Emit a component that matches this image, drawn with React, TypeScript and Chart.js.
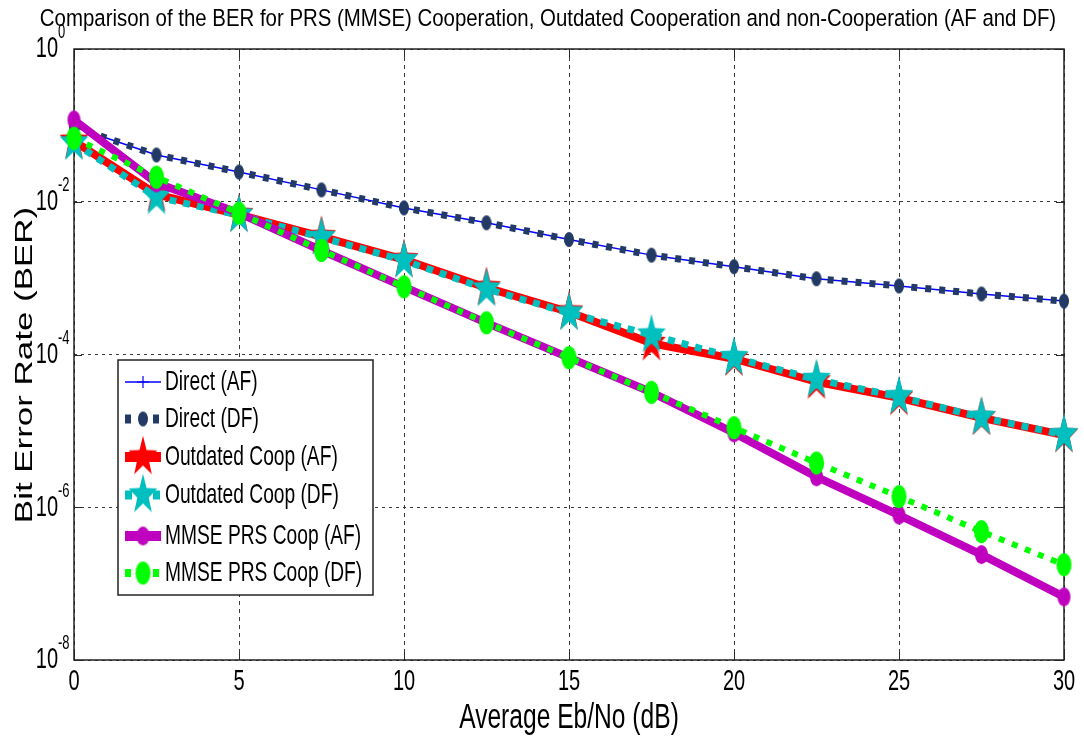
import React, { useEffect, useRef } from 'react';
import { Chart, registerables } from 'chart.js';

Chart.register(...registerables);

// ---------------- data ----------------
const snrDb = [0, 2.5, 5, 7.5, 10, 12.5, 15, 17.5, 20, 22.5, 25, 27.5, 30];
const directAF = [0.095, 0.041, 0.0245, 0.0143, 0.0083, 0.0053, 0.0032, 0.002, 0.00141, 0.00098, 0.00079, 0.00062, 0.0005];
const directDF = [0.095, 0.041, 0.0245, 0.0143, 0.0083, 0.0053, 0.0032, 0.002, 0.00141, 0.00098, 0.00079, 0.00062, 0.0005];
const outdatedAF = [0.062, 0.0125, 0.0068, 0.0035, 0.00175, 0.00075, 0.00036, 0.00014, 0.000088, 0.000044, 0.000027, 0.0000148, 0.0000088];
const outdatedDF = [0.059, 0.0115, 0.0067, 0.0034, 0.0017, 0.00072, 0.00035, 0.00018, 0.000091, 0.000047, 0.000028, 0.000015, 0.0000089];
const mmseAF = [0.118, 0.0176, 0.0071, 0.0023, 0.00077, 0.00026, 0.000091, 0.000032, 0.0000094, 0.0000025, 7.9e-7, 2.4e-7, 6.7e-8];
const mmseDF = [0.068, 0.021, 0.0071, 0.0023, 0.00077, 0.00026, 0.000091, 0.000032, 0.000011, 0.0000038, 1.38e-6, 4.8e-7, 1.77e-7];

const seriesLabels = [
  'Direct (AF)',
  'Direct (DF)',
  'Outdated Coop (AF)',
  'Outdated Coop (DF)',
  'MMSE PRS Coop (AF)',
  'MMSE PRS Coop (DF)',
];
const xTickValues = [0, 5, 10, 15, 20, 25, 30];
const yTickExponents = [0, -2, -4, -6, -8];
const titleText = 'Comparison of the BER for PRS (MMSE) Cooperation, Outdated Cooperation and non-Cooperation (AF and DF)';
const xTitle = 'Average Eb/No (dB)';
const yTitle = 'Bit Error Rate (BER)';

// ---------------- styles ----------------
const FAMILY = '"Liberation Sans", Arial, Helvetica, sans-serif';
const SY = 1.42; // vertical stretch of the original figure

function makeStar(color: string, R: number, sy: number) {
  const c = document.createElement('canvas');
  const w = Math.ceil(2 * R + 4);
  const h = Math.ceil(2 * R * sy + 4);
  c.width = w;
  c.height = h;
  const ctx = c.getContext('2d')!;
  const cx = w / 2;
  const cy = h / 2;
  ctx.beginPath();
  for (let k = 0; k < 10; k++) {
    const a = -Math.PI / 2 + (k * Math.PI) / 5;
    const r = k % 2 === 0 ? R : R * 0.40;
    const x = cx + r * Math.cos(a);
    const y = cy + r * Math.sin(a) * sy;
    if (k === 0) ctx.moveTo(x, y);
    else ctx.lineTo(x, y);
  }
  ctx.closePath();
  ctx.fillStyle = color;
  ctx.fill();
  return c;
}

function makeEllipse(color: string, rx: number, ry: number) {
  const c = document.createElement('canvas');
  const w = Math.ceil(2 * rx + 2);
  const h = Math.ceil(2 * ry + 2);
  c.width = w;
  c.height = h;
  const ctx = c.getContext('2d')!;
  ctx.beginPath();
  ctx.ellipse(w / 2, h / 2, rx, ry, 0, 0, Math.PI * 2);
  ctx.fillStyle = color;
  ctx.fill();
  return c;
}

function drawText(
  ctx: CanvasRenderingContext2D,
  s: string,
  x: number,
  y: number,
  size: number,
  sy: number,
  align: CanvasTextAlign = 'center',
  rot = 0,
) {
  ctx.save();
  ctx.translate(x, y);
  if (rot) ctx.rotate(rot);
  if (rot) ctx.scale(sy, 1);
  else ctx.scale(1, sy);
  ctx.font = `${size}px ${FAMILY}`;
  ctx.fillStyle = '#000';
  ctx.textAlign = align;
  ctx.textBaseline = 'middle';
  ctx.fillText(s, 0, 0);
  ctx.restore();
}

export default function App() {
  const ref = useRef<HTMLCanvasElement | null>(null);

  useEffect(() => {
    document.body.style.margin = '0';
    const canvas = ref.current;
    if (!canvas) return;

    const NAVY = '#233a64';
    const BLUE = '#0000ff';
    const RED = '#ff0000';
    const CYAN = '#00bfbf';
    const MAG = '#bf00bf';
    const GREEN = '#00ff00';

    const redStar = makeStar(RED, 15, SY);
    const cyanStar = makeStar(CYAN, 15, SY);
    const navyDot = makeEllipse(NAVY, 5, 7.5);
    const magDot = makeEllipse(MAG, 6.5, 9.5);
    const greenDot = makeEllipse(GREEN, 7.5, 11.5);

    const pts = (arr: number[]) => snrDb.map((x, i) => ({ x, y: arr[i] }));

    const datasets: any[] = [
      {
        label: seriesLabels[0], data: pts(directAF), borderColor: BLUE, borderWidth: 1.5,
        pointStyle: 'cross', pointRadius: 5, pointBorderColor: BLUE, pointBorderWidth: 1.2, order: 6,
      },
      {
        label: seriesLabels[1], data: pts(directDF), borderColor: NAVY, borderWidth: 7, borderDash: [6, 8],
        pointStyle: navyDot, pointRadius: 5, order: 5,
      },
      {
        label: seriesLabels[2], data: pts(outdatedAF), borderColor: RED, borderWidth: 8,
        pointStyle: redStar, pointRadius: 12, order: 4,
      },
      {
        label: seriesLabels[3], data: pts(outdatedDF), borderColor: CYAN, borderWidth: 7, borderDash: [7, 7],
        pointStyle: cyanStar, pointRadius: 12, order: 3,
      },
      {
        label: seriesLabels[4], data: pts(mmseAF), borderColor: MAG, borderWidth: 8,
        pointStyle: magDot, pointRadius: 7, order: 2,
      },
      {
        label: seriesLabels[5], data: pts(mmseDF), borderColor: GREEN, borderWidth: 6, borderDash: [6, 8],
        pointStyle: greenDot, pointRadius: 8, order: 1,
      },
    ];
    datasets.forEach((d) => {
      d.fill = false;
      d.tension = 0;
      d.clip = false;
      d.borderCapStyle = 'butt';
      d.borderJoinStyle = 'round';
      d.backgroundColor = d.borderColor;
    });

    const legendMarkers = [null, navyDot, redStar, cyanStar, magDot, greenDot];

    const decor = {
      id: 'decor',
      beforeDatasetsDraw(chart: any) {
        const { ctx, chartArea: a, scales } = chart;
        ctx.save();
        ctx.strokeStyle = '#2a2a2a';
        ctx.lineWidth = 1;
        const tl = 8;
        xTickValues.forEach((v) => {
          const px = Math.round(scales.x.getPixelForValue(v)) + 0.5;
          ctx.beginPath();
          ctx.moveTo(px, a.top); ctx.lineTo(px, a.top + tl);
          ctx.moveTo(px, a.bottom); ctx.lineTo(px, a.bottom - tl);
          ctx.stroke();
        });
        yTickExponents.forEach((e) => {
          const py = Math.round(scales.y.getPixelForValue(Math.pow(10, e))) + 0.5;
          ctx.beginPath();
          ctx.moveTo(a.left, py); ctx.lineTo(a.left + tl, py);
          ctx.moveTo(a.right, py); ctx.lineTo(a.right - tl, py);
          ctx.stroke();
        });
        ctx.lineWidth = 1.5;
        ctx.strokeStyle = '#222';
        ctx.strokeRect(a.left, a.top, a.right - a.left, a.bottom - a.top);
        ctx.restore();
      },
      afterDraw(chart: any) {
        const { ctx, chartArea: a, scales } = chart;
        // title
        ctx.save();
        ctx.font = `20px ${FAMILY}`;
        const tw = ctx.measureText(titleText).width;
        ctx.restore();
        const tsize = (20 * 1017) / tw;
        drawText(ctx, titleText, 548, 19, tsize, 1.2);

        // x ticks
        xTickValues.forEach((v) => {
          drawText(ctx, String(v), scales.x.getPixelForValue(v), 682, 20, 1.5);
        });
        // y ticks with superscript exponents
        yTickExponents.forEach((e) => {
          const py = scales.y.getPixelForValue(Math.pow(10, e));
          drawText(ctx, '10', 58, py, 20, 1.5, 'right');
          drawText(ctx, String(e), 58, py - 16, 13, 1.5, 'left');
        });
        // axis titles
        drawText(ctx, xTitle, (a.left + a.right) / 2, 718, 24.6, SY);
        drawText(ctx, yTitle, 25, 365, 24.6, SY, 'center', -Math.PI / 2);

        // legend
        const bx = 118, by = 360, bw = 255, bh = 235;
        ctx.save();
        ctx.fillStyle = '#fff';
        ctx.fillRect(bx, by, bw, bh);
        ctx.strokeStyle = '#222';
        ctx.lineWidth = 1.5;
        ctx.strokeRect(bx, by, bw, bh);
        ctx.restore();
        const rows = [382, 419, 457, 495, 536, 573];
        datasets.forEach((d, i) => {
          const ry = rows[i];
          ctx.save();
          ctx.strokeStyle = d.borderColor;
          ctx.lineWidth = i === 0 ? 1.5 : d.borderWidth + 2;
          ctx.setLineDash(d.borderDash || []);
          ctx.lineCap = 'butt';
          ctx.beginPath();
          ctx.moveTo(125, ry);
          ctx.lineTo(161, ry);
          ctx.stroke();
          ctx.setLineDash([]);
          const m = legendMarkers[i];
          if (m) {
            ctx.drawImage(m, 143 - m.width / 2, ry - m.height / 2);
          } else {
            ctx.lineWidth = 1.2;
            ctx.beginPath();
            ctx.moveTo(143, ry - 6); ctx.lineTo(143, ry + 6);
            ctx.moveTo(137, ry); ctx.lineTo(149, ry);
            ctx.stroke();
          }
          ctx.restore();
          drawText(ctx, d.label, 165, ry, 19.2, 1.45, 'left');
        });
      },
    };

    const chart = new Chart(canvas, {
      type: 'line',
      data: { datasets },
      options: {
        animation: false,
        responsive: true,
        maintainAspectRatio: false,
        devicePixelRatio: 1,
        events: [],
        layout: { padding: { left: 74, right: 13, top: 49, bottom: 78 } },
        plugins: {
          legend: { display: false },
          title: { display: false },
          tooltip: { enabled: false },
        },
        scales: {
          x: {
            type: 'linear',
            min: 0,
            max: 30,
            afterBuildTicks: (s: any) => {
              s.ticks = xTickValues.map((v) => ({ value: v }));
            },
            afterFit: (s: any) => {
              s.height = 0;
            },
            ticks: { display: false },
            grid: { color: '#3a3a3a', lineWidth: 1, drawTicks: false },
            border: { display: false, dash: [4, 4] },
          },
          y: {
            type: 'logarithmic',
            min: 1e-8,
            max: 1,
            afterBuildTicks: (s: any) => {
              s.ticks = yTickExponents.map((e) => ({ value: Math.pow(10, e) }));
            },
            afterFit: (s: any) => {
              s.width = 0;
            },
            ticks: { display: false },
            grid: { color: '#3a3a3a', lineWidth: 1, drawTicks: false },
            border: { display: false, dash: [3, 4] },
          },
        },
      } as any,
      plugins: [decor],
    });

    return () => {
      chart.destroy();
    };
  }, []);

  return (
    <div style={{ width: 1084, height: 738, position: 'relative', background: '#fff' }}>
      <canvas ref={ref} />
    </div>
  );
}
